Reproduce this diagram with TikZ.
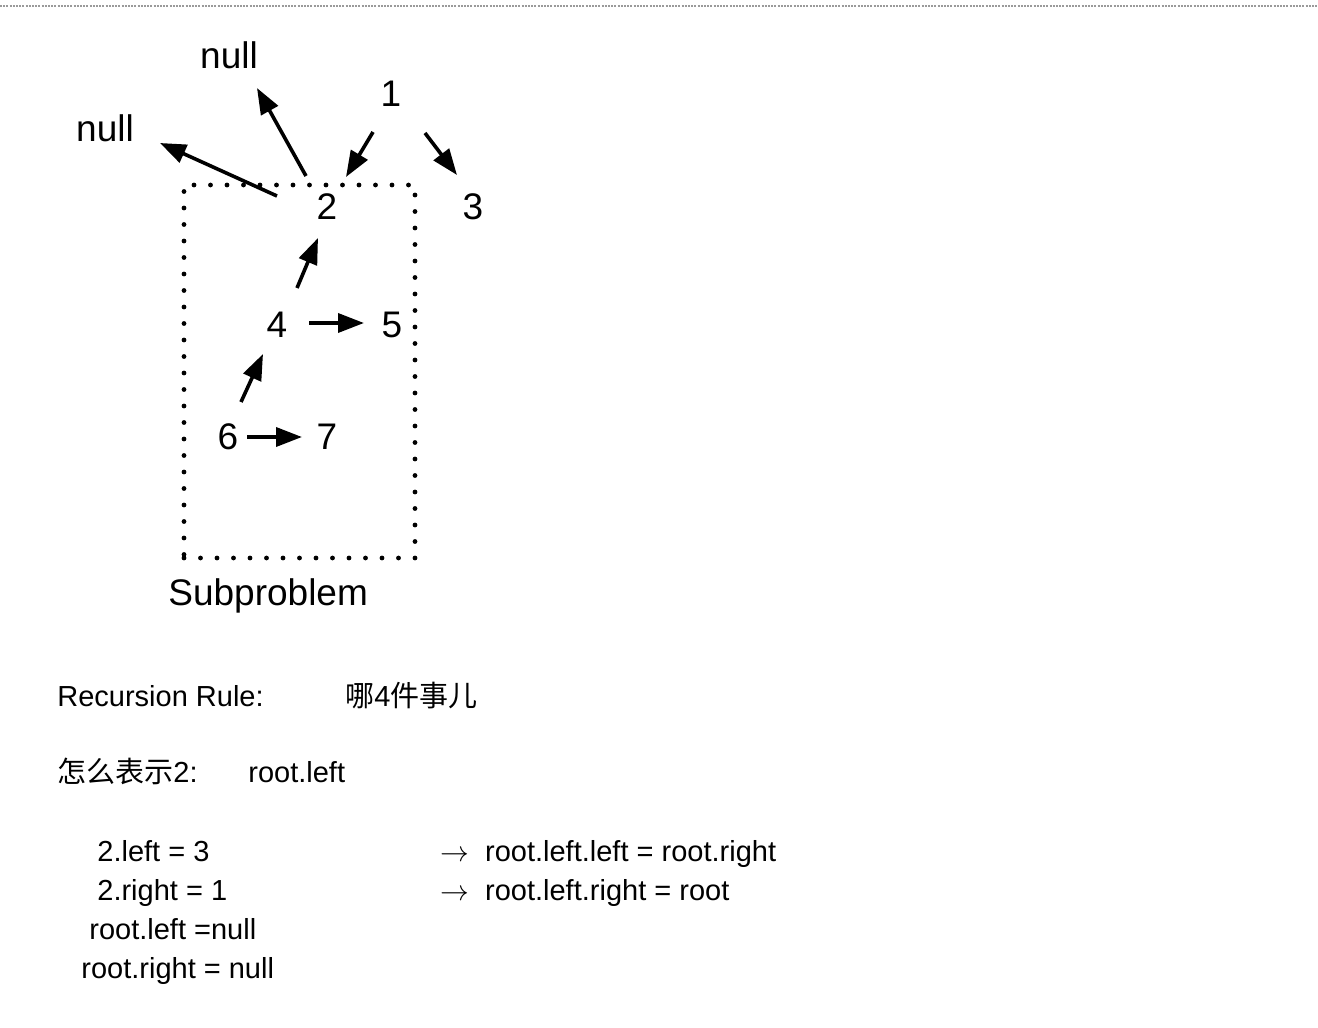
\documentclass[tikz,border=0pt]{standalone}
\usepackage{fontspec}
\setmainfont{Liberation Sans}
\newfontfamily\cjk{Noto Sans CJK SC}
\usepackage{tikz}
\usetikzlibrary{arrows.meta,positioning}
\definecolor{rulegray}{HTML}{9A9A9A}
\tikzset{num/.style={inner sep=0pt,font=\fontsize{18.5}{22}\selectfont},
  txt/.style={anchor=base west,inner sep=0pt,font=\fontsize{14.5}{17}\selectfont},
  ptr/.style={-{Triangle[length=13pt,width=9.5pt]},line width=1.8pt},
  dotbox/.style={draw,line width=2.4pt,line cap=round,dash pattern=on 0pt off 8.25pt,
  minimum width=115.5pt,minimum height=186.5pt,inner sep=0pt}}

\begin{document}
\begin{tikzpicture}[x=0.5pt,y=-0.5pt]
\useasboundingbox (0,0) rectangle (1318,1028);
\draw[rulegray,line width=0.6pt,dash pattern=on 1pt off 0.6pt] (0,6) -- (1318,6);
% the tree
\node[num] (nullT) at (229,55) {null};
\node[num] (nullL) at (105,128) {null};
\node[num] (one) at (391,94) {1};
\node[num] (two) at (327,207) {2};
\node[num] (three) at (473,207) {3};
\node[num] (four) at (277,325) {4};
\node[num] (five) at (392,325) {5};
\node[num] (six) at (228,437) {6};
\node[num] (seven) at (327,437) {7};
\node[dotbox] (box) at (299.5,371.5) {};
\node[num,anchor=base west] (sub) at (168,605) {Subproblem};
\draw[ptr] ([shift={(-50,-11)}]two.center) -- ([shift={(55,15)}]nullL.center);
\draw[ptr] ([shift={(-21,-31)}]two.center) -- ([shift={(28,33)}]nullT.center);
\draw[ptr] ([shift={(-18,38)}]one.center) -- ([shift={(19,-30)}]two.center);
\draw[ptr] ([shift={(34,39)}]one.center) -- ([shift={(-16,-32)}]three.center);
\draw[ptr] ([shift={(20,-37)}]four.center) -- ([shift={(-9,31)}]two.center);
\draw[ptr] ([shift={(13,-35)}]six.center) -- ([shift={(-14,29)}]four.center);
\draw[ptr] ([shift={(32,-2)}]four.center) -- ([shift={(-28,-2)}]five.center);
\draw[ptr] ([shift={(19,0)}]six.center) -- ([shift={(-25,0)}]seven.center);
% notes
\node[txt] (rule) at (57,706) {Recursion Rule:};
\node[txt] (what) at (345,706) {{\cjk 哪}4{\cjk 件事儿}};
\node[txt] (how) at (57,782) {{\cjk 怎么表示}2:};
\node[txt] (rl) at (248,782) {root.left};
\node[txt] (l1) at (97,861) {2.left = 3};
\node[txt] (l2) at (97,900) {2.right = 1};
\node[txt] (l3) at (89,939) {root.left =null};
\node[txt] (l4) at (81,978) {root.right = null};
\node[txt] (r1) at (440,861) {$\rightarrow$\hspace{0.55em}root.left.left = root.right};
\node[txt] (r2) at (440,900) {$\rightarrow$\hspace{0.55em}root.left.right = root};
\end{tikzpicture}
\end{document}
